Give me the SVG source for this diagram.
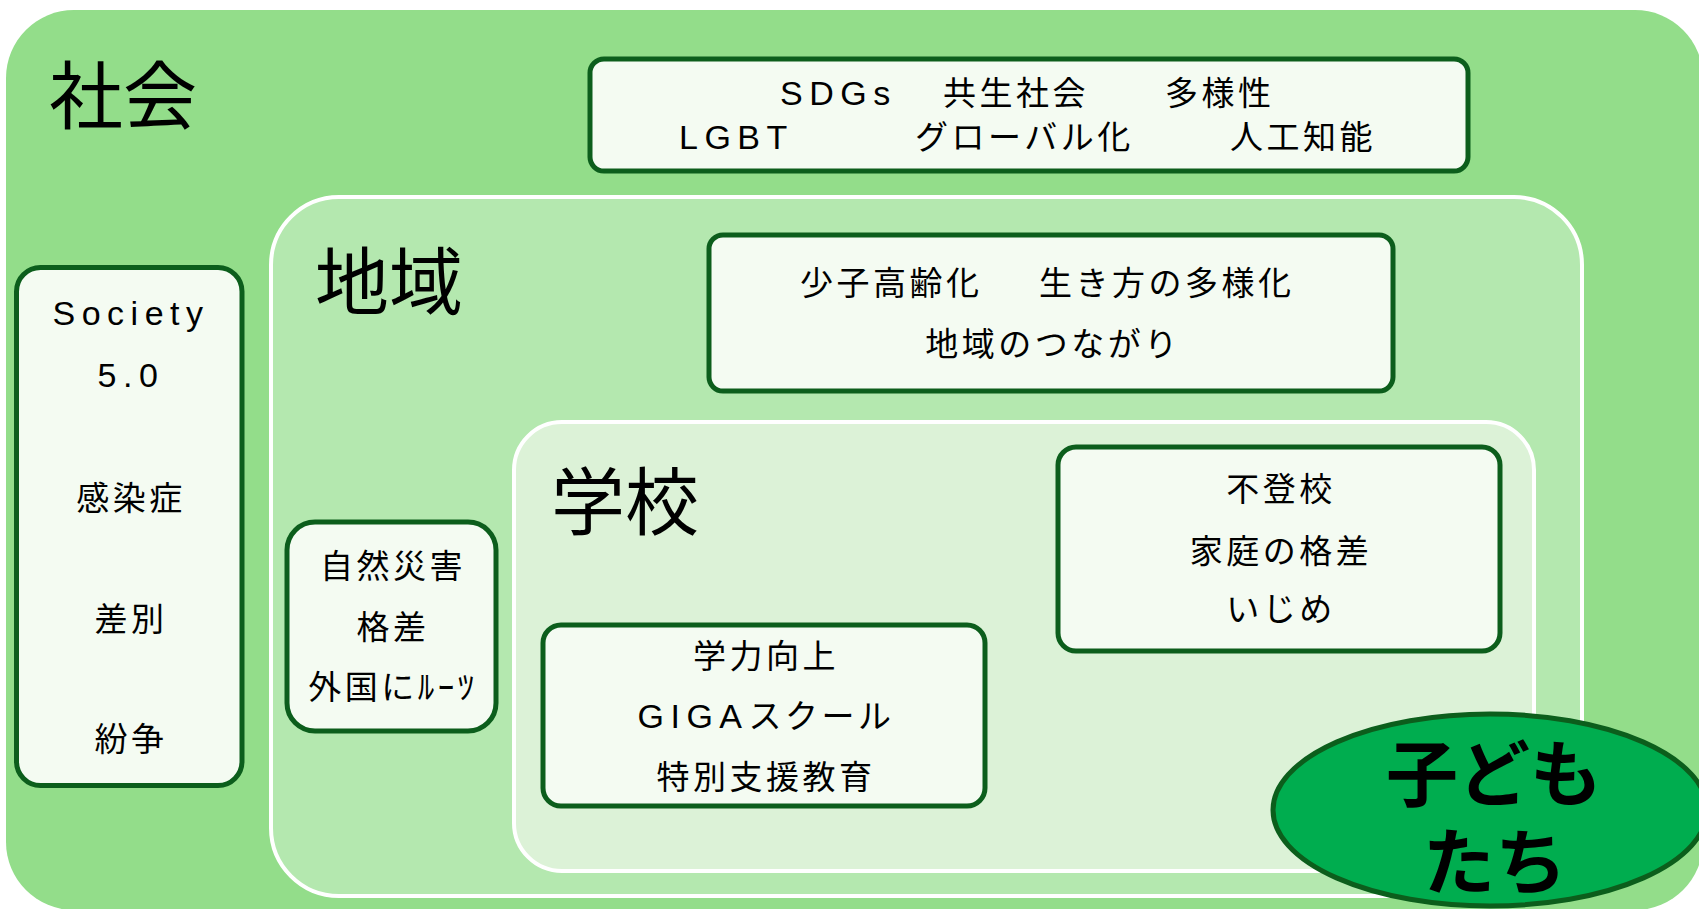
<svg xmlns="http://www.w3.org/2000/svg" width="1699" height="909" viewBox="0 0 1699 909">
<style>
.t{font-family:"Liberation Sans","Noto Sans CJK JP",sans-serif;font-size:33px;letter-spacing:3.5px;fill:#000}
.lat{font-size:34px;letter-spacing:6.5px}
.big{font-family:"Noto Sans CJK JP",sans-serif;font-size:74px;fill:#000}
.kid{font-family:"Noto Sans CJK JP",sans-serif;font-size:72px;font-weight:700;fill:#000;text-anchor:middle}
.mid{text-anchor:middle}
.box{fill:#F4FBF2;stroke:#0C5E1C;stroke-width:5}
.area{stroke:#FFFFFF;stroke-width:4}
</style>
<g id="society-area">
<rect x="6" y="10" width="1697" height="900" rx="68" fill="#93DD8A"/>
<text class="big" x="49" y="123">社会</text>
</g>
<g id="region-area">
<rect class="area" x="271" y="197" width="1311" height="699" rx="68" fill="#B4E8AF"/>
<text class="big" x="315" y="309">地域</text>
</g>
<g id="school-area">
<rect class="area" x="514" y="422" width="1020" height="449" rx="48" fill="#DCF2D7"/>
<text class="big" x="551" y="529">学校</text>
</g>
<g id="society-topics">
<rect class="box" x="590" y="59" width="878" height="112" rx="14"/>
<text class="t" y="105"><tspan class="lat" x="780">SDGs</tspan><tspan x="943">共生社会</tspan><tspan x="1165">多様性</tspan></text>
<text class="t" y="149"><tspan class="lat" x="679">LGBT</tspan><tspan x="915">グローバル化</tspan><tspan x="1230">人工知能</tspan></text>
</g>
<g id="society-left">
<rect class="box" x="16.5" y="267.5" width="225.5" height="518" rx="24"/>
<text class="t mid" x="131" y="325"><tspan class="lat">Society</tspan></text>
<text class="t mid" x="131" y="387"><tspan class="lat">5.0</tspan></text>
<text class="t mid" x="131" y="510">感染症</text>
<text class="t mid" x="131" y="631">差別</text>
<text class="t mid" x="131" y="751">紛争</text>
</g>
<g id="region-topics">
<rect class="box" x="709" y="235" width="684" height="156" rx="14"/>
<text class="t" y="295"><tspan x="800">少子高齢化　</tspan><tspan x="1039">生き方の多様化</tspan></text>
<text class="t mid" x="1053" y="356">地域のつながり</text>
</g>
<g id="region-left">
<rect class="box" x="287" y="522" width="209" height="209" rx="28"/>
<text class="t mid" x="393" y="578">自然災害</text>
<text class="t mid" x="393" y="639">格差</text>
<text class="t mid" x="393" y="699">外国にﾙｰﾂ</text>
</g>
<g id="school-issues">
<rect class="box" x="1058" y="447" width="442" height="204" rx="18"/>
<text class="t mid" x="1281" y="501">不登校</text>
<text class="t mid" x="1281" y="563">家庭の格差</text>
<text class="t mid" x="1281" y="621">いじめ</text>
</g>
<g id="school-learning">
<rect class="box" x="543" y="625" width="442" height="181" rx="18"/>
<text class="t mid" x="766" y="668">学力向上</text>
<text class="t mid" x="766" y="728"><tspan class="lat">GIGA</tspan>スクール</text>
<text class="t mid" x="766" y="789">特別支援教育</text>
</g>
<g id="children">
<ellipse cx="1490" cy="810" rx="217" ry="96" fill="#00AD4F" stroke="#0C5E1C" stroke-width="5"/>
<text class="kid" x="1494" y="800">子ども</text>
<text class="kid" x="1495" y="888">たち</text>
</g>
<g id="connectors"/>
</svg>
